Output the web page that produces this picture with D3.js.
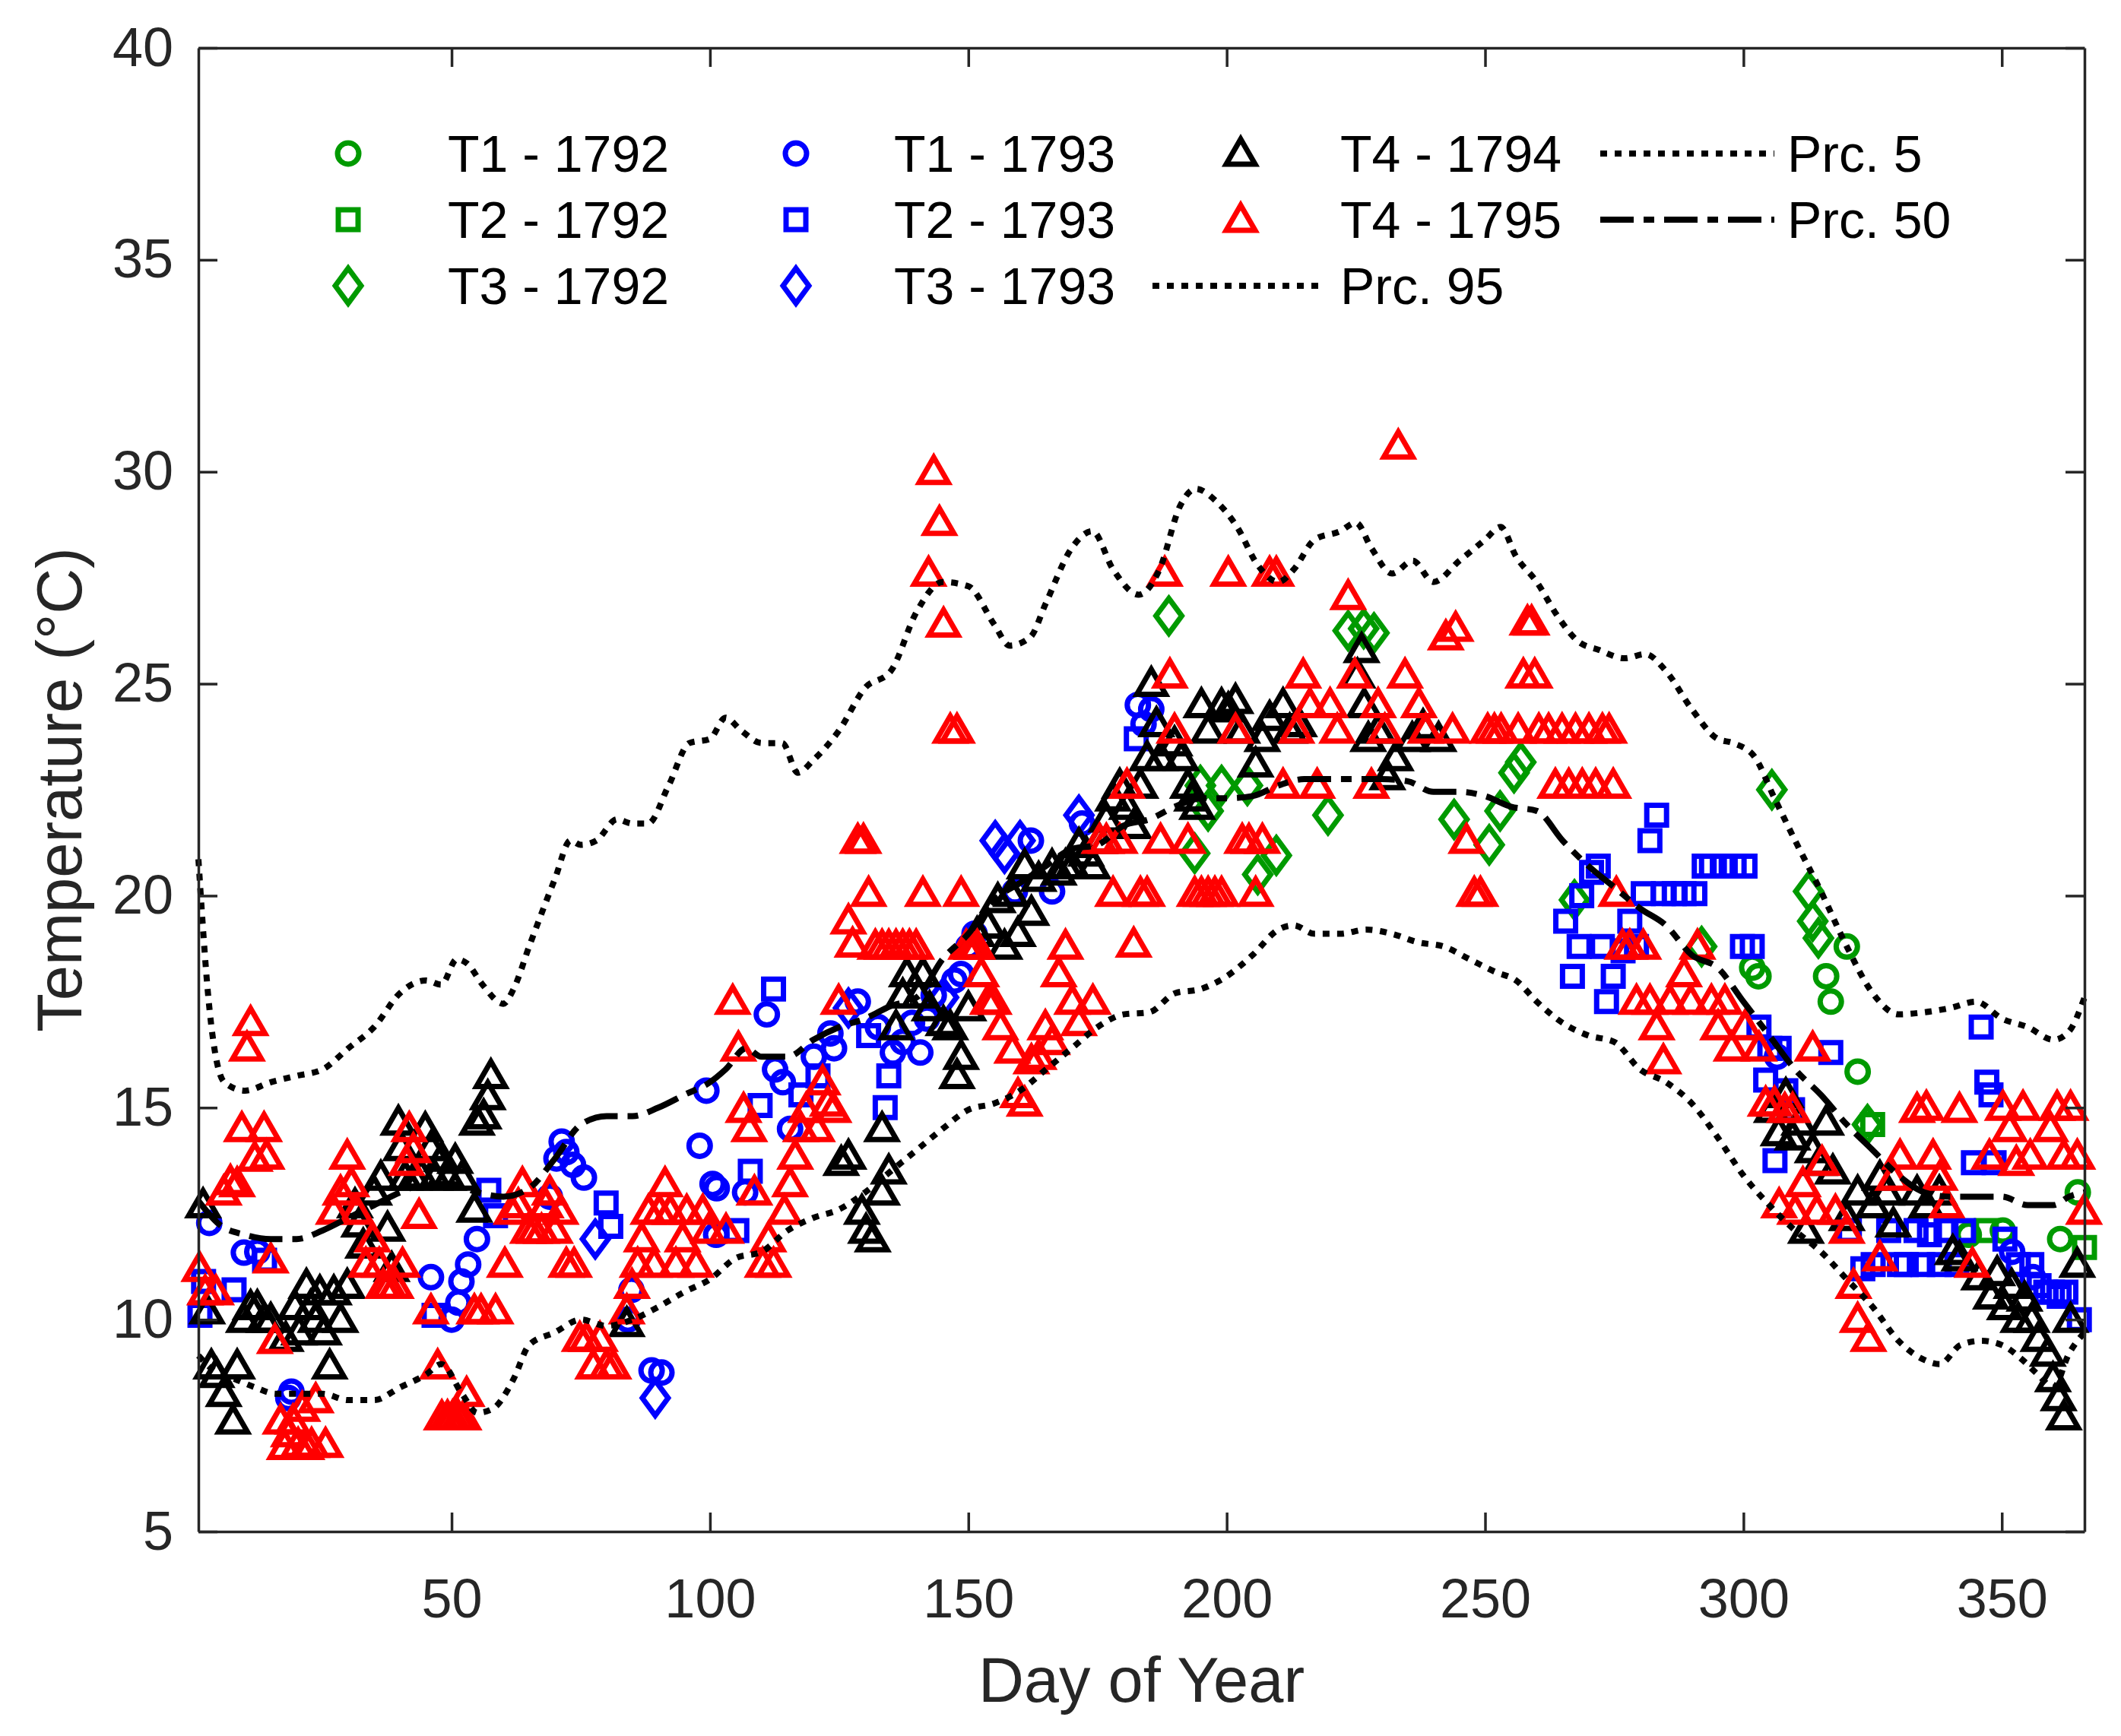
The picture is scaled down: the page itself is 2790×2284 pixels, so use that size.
<!DOCTYPE html>
<html><head><meta charset="utf-8">
<script src="https://cdn.jsdelivr.net/npm/d3@7"></script>
<style>body{margin:0;background:#fff} text{font-family:"Liberation Sans",Arial,Helvetica,sans-serif}</style>
</head><body><svg id="c" width="2790" height="2284"></svg>
<script>
// ---------------- data ----------------
const xTickValues = [50,100,150,200,250,300,350];
const yTickValues = [5,10,15,20,25,30,35,40];

// percentile curves [day, temp]
const prc95 = [[1,20.86],[3,17.5],[6,15.6],[10,15.4],[15,15.6],[20,15.75],[25,15.9],[30,16.4],[35,16.9],[40,17.7],[45,18.0],[48,17.9],[51,18.5],[53,18.4],[56,17.9],[60,17.45],[62,17.8],[65,18.8],[70,20.4],[73,21.3],[75,21.2],[78,21.3],[82,21.8],[85,21.7],[88,21.7],[92,22.6],[96,23.6],[100,23.7],[103,24.2],[106,23.9],[110,23.6],[114,23.6],[117,22.9],[120,23.2],[125,23.9],[130,24.9],[135,25.3],[140,26.7],[145,27.4],[150,27.3],[155,26.4],[158,25.9],[162,26.1],[165,26.9],[170,28.2],[174,28.6],[178,27.7],[183,27.1],[187,27.7],[191,29.2],[194,29.6],[198,29.3],[202,28.7],[206,27.8],[210,27.4],[213,27.7],[217,28.4],[222,28.6],[225,28.8],[228,28.2],[232,27.6],[236,27.9],[240,27.4],[245,27.9],[250,28.4],[253,28.7],[256,28.0],[260,27.4],[264,26.6],[268,26.0],[272,25.8],[277,25.6],[281,25.7],[285,25.3],[290,24.4],[295,23.7],[298,23.6],[302,23.3],[306,22.3],[310,21.3],[315,20.1],[320,18.8],[325,17.7],[330,17.2],[335,17.25],[340,17.35],[345,17.5],[350,17.1],[355,16.9],[360,16.6],[363,16.8],[366,17.6]];
const prc50 = [[1,12.8],[5,12.25],[10,12.0],[15,11.9],[20,11.9],[25,12.1],[30,12.4],[35,12.7],[40,13.0],[45,13.2],[50,13.2],[55,13.0],[60,12.9],[65,13.1],[70,13.8],[75,14.6],[80,14.8],[85,14.8],[90,15.0],[95,15.3],[100,15.6],[103,15.9],[107,16.4],[110,16.2],[115,16.2],[120,16.6],[125,16.9],[130,17.1],[135,17.4],[140,17.6],[145,18.5],[150,19.1],[155,19.9],[160,20.3],[165,20.7],[170,21.1],[175,21.2],[180,21.65],[185,21.8],[190,22.1],[195,22.3],[200,22.3],[205,22.35],[210,22.6],[215,22.75],[220,22.75],[225,22.75],[230,22.75],[235,22.7],[240,22.45],[245,22.45],[250,22.35],[255,22.1],[260,22.0],[265,21.3],[270,20.7],[275,20.2],[280,19.7],[285,19.3],[290,18.6],[295,18.3],[300,17.5],[305,16.7],[310,15.9],[315,15.3],[320,14.6],[325,14.0],[330,13.4],[335,13.0],[340,12.9],[345,12.9],[350,12.9],[355,12.7],[360,12.7],[363,12.9],[366,13.0]];
const prc5 = [[1,9.15],[4,8.8],[8,8.6],[12,8.4],[16,8.25],[20,8.25],[25,8.25],[30,8.1],[35,8.1],[40,8.4],[45,8.7],[48,8.95],[52,8.25],[55,7.8],[58,7.9],[62,8.6],[65,9.4],[70,9.7],[75,10.0],[80,9.85],[85,10.0],[90,10.3],[95,10.65],[100,10.95],[105,11.45],[110,11.6],[115,12.1],[120,12.4],[125,12.6],[130,13.0],[135,13.5],[140,14.0],[145,14.5],[150,14.95],[155,15.1],[160,15.4],[165,15.9],[170,16.4],[175,16.9],[180,17.2],[185,17.25],[190,17.7],[195,17.8],[200,18.1],[205,18.6],[210,19.2],[213,19.3],[217,19.1],[222,19.1],[227,19.2],[232,19.1],[237,18.9],[242,18.8],[247,18.5],[252,18.2],[256,18.0],[260,17.5],[265,17.0],[270,16.7],[275,16.55],[280,15.9],[285,15.6],[290,15.1],[295,14.3],[300,13.4],[305,12.7],[310,12.1],[315,11.6],[320,10.95],[325,10.3],[330,9.5],[335,9.05],[338,8.95],[342,9.4],[346,9.5],[350,9.4],[354,9.05],[357,8.7],[360,8.4],[363,9.2],[366,9.7]];

// 1792 (green)
const t1_1792 = [[301.7,18.3],[302.9,18.1],[316,18.1],[316.9,17.5],[320,18.8],[322.1,15.85],[343.6,12.0],[350.2,12.1],[361.3,11.9],[364.7,13.0]];
const t2_1792 = [[325,14.6],[366,11.7],[347,12.1]];
const t3_1792 = [[188.8,26.6],[193.8,21.0],[194.9,22.6],[196.4,22.0],[199,22.6],[204,22.6],[206,20.5],[209.6,20.95],[219.6,21.9],[223.5,26.25],[226.5,26.3],[228.5,26.2],[244,21.8],[250.8,21.2],[252.9,22.0],[255.6,22.9],[256.9,23.15],[267.3,19.9],[291.9,18.8],[305.5,22.5],[312.6,20.1],[313.4,19.4],[314.5,19.0],[324,14.6]];

// 1793 (blue)
const t1_1793 = [[3.1,12.28],[9.8,11.58],[12.4,11.6],[19,8.3],[18.4,8.15],[46,11.0],[50,10.0],[51.3,10.4],[51.9,10.9],[53.2,11.3],[54.9,11.9],[69,12.9],[70.3,13.8],[71.3,14.2],[72.2,13.95],[73.5,13.65],[75.6,13.35],[84.1,10.0],[84.8,10.7],[88.7,8.8],[90.6,8.75],[98,14.1],[99.3,15.4],[100.5,13.2],[101.2,12.0],[101.3,13.1],[106.8,13.0],[111,17.2],[112.6,15.9],[114.1,15.6],[115.5,14.5],[120.1,16.2],[123.3,16.75],[124,16.4],[128.6,17.5],[132.5,16.9],[135.4,16.3],[137.3,16.55],[139.1,17.0],[140.7,16.3],[142,17.1],[143.3,17.65],[147.3,18.0],[148.6,18.15],[150,18.8],[151.2,19.1],[159,20.1],[162.1,21.3],[166.2,20.1],[172,21.7],[182.8,24.5],[183.9,24.05],[185.4,24.4],[306.5,16.2],[352,11.6],[356,11.0]];
const t2_1793 = [[1.3,10.1],[2,10.9],[7.9,10.7],[13.8,11.4],[46.6,10.1],[57.2,13.05],[58.5,12.45],[79.9,12.75],[80.8,12.2],[105.2,12.1],[107.8,13.5],[109.7,15.05],[112.3,17.8],[117.6,15.3],[120.9,15.75],[130.7,16.7],[133.9,15.0],[134.6,15.75],[182.5,23.7],[265.6,19.4],[266.9,18.1],[268.2,18.8],[268.7,20.0],[270.6,20.55],[271.9,20.7],[272.7,18.8],[273.5,17.5],[274.8,18.1],[276.7,18.7],[278,19.4],[279.3,18.8],[280.6,20.05],[281.9,21.3],[283.2,21.9],[284.5,20.05],[286.6,20.05],[288.5,20.05],[290.6,20.05],[292.4,20.7],[293.8,20.7],[295.9,20.7],[298.2,20.7],[300.3,20.7],[299.8,18.8],[301.7,18.8],[303,16.9],[304.3,15.65],[305.1,16.4],[306.1,13.75],[306.9,16.4],[308.2,15.4],[309.5,14.95],[316.9,16.3],[320.5,12.1],[323.1,11.2],[325.1,11.3],[328.1,12.1],[330.2,11.3],[331.5,11.3],[333.4,12.1],[334.7,11.3],[336,12.0],[337.9,11.3],[339.2,12.1],[341.3,11.3],[342.6,12.1],[344.5,13.7],[346,16.9],[347.1,15.6],[347.9,15.3],[348.5,13.7],[350.6,11.9],[353.2,11.3],[355.8,11.3],[357.2,10.8],[358.5,10.65],[359.8,10.65],[361.1,10.55],[362.4,10.65],[365,10.0]];
const t3_1793 = [[77.8,11.9],[89.4,8.15],[126.8,17.35],[145.2,17.6],[155.2,21.3],[157,21.0],[160,21.3],[171.4,21.9]];

// 1794 (black)
const t4_1794 = [[1.9,12.7],[2.7,10.2],[3.5,8.9],[4.5,8.7],[5.9,8.25],[7.7,7.6],[8.5,8.9],[9.8,10.0],[11.1,10.3],[12.4,10.3],[13.7,10.0],[15,10.0],[17.9,9.55],[19.7,10.3],[20.5,9.7],[21.9,10.8],[22.7,10.3],[23.7,10.0],[24.5,10.65],[25.3,9.7],[26.4,8.9],[27.2,10.65],[28.5,10.0],[29.8,10.8],[31.3,12.7],[32.1,12.25],[32.9,11.75],[35,13.0],[36.3,13.35],[37.6,12.15],[38.4,11.2],[39.7,14.65],[40.2,14.05],[41,13.35],[42.8,13.35],[44.1,13.4],[44.9,14.5],[46,14.05],[46.8,13.35],[48.1,13.8],[49.4,13.35],[50.7,13.75],[52,13.35],[54.4,12.6],[54.9,14.65],[56.2,14.8],[57,15.25],[57.6,15.75],[83.9,9.9],[125.4,13.7],[126.8,13.85],[129.4,12.55],[130.2,12.1],[131.5,11.9],[133.3,13.0],[134.6,13.5],[133.3,14.5],[136,16.9],[137.3,17.65],[138.1,18.15],[140.4,17.65],[141.2,18.15],[142.5,17.35],[145.2,17.0],[146.5,16.9],[147.8,15.75],[148.6,16.2],[150,17.35],[150.7,18.8],[151.7,19.1],[153.8,19.3],[155.7,19.9],[157,18.8],[158.3,20.05],[159.6,19.1],[160.9,20.7],[162.2,19.6],[163.6,20.4],[166.2,20.7],[167.5,20.55],[168.8,20.7],[170.1,20.7],[171.4,21.2],[172.8,21.0],[174.1,20.7],[175.4,21.3],[176.7,21.8],[178,22.3],[179.3,22.6],[180.7,22.1],[182,21.65],[183.3,22.6],[184.6,23.25],[185.4,25.0],[186.4,24.05],[187.2,23.25],[189.9,23.6],[191.2,23.25],[192.5,22.6],[193.3,22.3],[194.3,22.1],[195.1,24.5],[196.4,23.9],[199,24.5],[200.3,24.4],[201.7,24.6],[203,23.9],[205.6,23.1],[206.9,23.7],[208.3,24.2],[210.9,24.5],[212.2,23.9],[214,24.05],[225.3,25.2],[226.1,25.8],[226.6,24.5],[227.4,23.7],[229.3,23.9],[231.1,22.8],[232.7,23.25],[235.9,23.7],[238,24.0],[241,23.7],[305.5,14.95],[306.8,14.4],[308.2,15.3],[309.5,14.3],[310.8,14.65],[312.1,12.1],[313.4,14.0],[314.7,13.7],[316,14.65],[317.3,13.5],[320,12.4],[322.1,13.0],[325.1,12.7],[326.4,13.35],[327.7,13.0],[329,12.25],[333.6,13.0],[335.4,12.7],[337.9,13.0],[340.5,11.6],[341.8,11.45],[345.6,11.0],[347.9,10.55],[349.1,11.1],[350.6,10.3],[351.9,10.8],[353.2,10.0],[354.4,10.5],[355.8,10.0],[357.1,9.55],[358.9,9.2],[359.9,8.6],[361,8.15],[362,7.7],[363.3,10.0],[364.6,11.3]];

// 1795 (red)
const t4_1795 = [[1.2,11.2],[2.3,10.65],[4.4,10.65],[5.9,13.0],[7.2,13.25],[8.5,13.2],[9.4,14.5],[10.4,16.4],[11.1,17.0],[11.9,13.8],[13.7,14.5],[14.2,13.85],[15,11.4],[15.8,9.5],[16.9,7.6],[17.7,7.0],[18.5,7.3],[19.3,7.6],[20.3,7.05],[21.1,7.9],[21.9,7.0],[22.9,7.05],[23.7,8.1],[25.6,7.05],[27.2,12.55],[28.5,13.0],[29.8,13.85],[30.6,13.2],[31.6,12.55],[33.4,11.3],[34.7,11.9],[36,11.3],[36.8,10.8],[37.9,10.8],[39.2,10.8],[40.5,11.3],[41.3,13.7],[41.8,14.5],[42.6,14.0],[43.7,12.45],[46,10.2],[47.3,8.9],[48.1,7.7],[49.2,7.7],[50.2,7.7],[51.3,7.7],[52.3,7.7],[52.9,8.25],[54.4,10.2],[55.7,10.2],[58.5,10.2],[60.3,11.3],[61.6,12.55],[62.9,12.7],[63.7,13.2],[64.8,12.1],[66,12.1],[67.4,12.1],[68.2,12.7],[69,13.0],[70,12.1],[71.1,12.55],[72.2,11.3],[73.7,11.3],[74.8,9.55],[76.1,9.55],[77.4,8.9],[78.7,9.55],[80,8.9],[81.3,8.9],[83.9,10.2],[84.9,10.8],[86,11.3],[86.8,11.9],[88.1,12.55],[89.2,11.3],[90.2,12.55],[91.3,13.2],[92.3,12.55],[93.4,11.3],[94.7,11.9],[95.5,12.55],[97.3,11.3],[98.6,12.55],[99.7,12.1],[103.1,12.1],[104.4,17.5],[105.5,16.4],[106.5,14.95],[107.6,14.5],[108.6,13.0],[110.2,11.3],[111.3,11.9],[112.3,11.3],[114.4,12.55],[115.5,13.2],[116.5,13.85],[117.6,14.5],[118.6,14.95],[120.7,14.5],[121.8,15.6],[122.8,15.1],[123.9,14.95],[124.9,17.5],[126.8,19.4],[127.6,18.85],[128.6,21.3],[129.7,21.3],[130.7,20.05],[132,18.8],[133.3,18.8],[134.6,18.8],[136,18.8],[137.3,18.8],[138.6,18.8],[139.9,18.8],[141.2,20.05],[142.3,27.6],[143.3,30.0],[144.4,28.8],[145.2,26.4],[146.5,23.9],[147.8,23.9],[148.6,20.05],[149.6,18.8],[150.7,18.8],[151.7,18.8],[152.5,18.15],[153.8,17.5],[154.9,17.5],[156.2,16.9],[158.5,16.35],[159.6,15.3],[160.9,15.1],[162.2,16.1],[163.6,16.2],[164.9,16.9],[166.2,16.55],[167.5,18.15],[168.8,18.8],[170.1,17.5],[171.4,17.0],[174.1,17.5],[175.4,21.3],[176.7,21.3],[178,20.05],[179.3,21.3],[180.7,22.6],[182,18.85],[183.3,20.05],[184.6,20.05],[187.2,21.3],[188,27.6],[189,25.2],[189.9,23.9],[192.5,21.3],[193.8,20.05],[195.1,20.05],[196.4,20.05],[197.7,20.05],[199,20.05],[200.3,27.6],[201.7,23.9],[203,21.3],[204.3,21.3],[205.6,20.05],[206.9,21.3],[208.3,27.6],[209.6,27.6],[210.9,22.6],[213.5,23.9],[214.8,25.2],[216.1,24.5],[217.5,22.6],[220,24.5],[221.4,23.9],[223.5,27.05],[224.8,25.2],[228,22.6],[229.3,24.5],[230.6,23.9],[233.2,30.6],[234.5,25.2],[237.2,24.5],[238.5,23.9],[242.4,26.1],[243.7,23.9],[244.3,26.3],[246.4,21.3],[247.9,20.05],[249.1,20.05],[250.5,23.9],[251.8,23.9],[253.1,23.9],[256.4,23.9],[257.4,25.2],[258.2,26.45],[259,26.45],[259.6,25.2],[260.4,23.9],[262.3,23.9],[263.6,22.6],[264.9,23.9],[266.2,22.6],[267.5,23.9],[268.8,22.6],[270.1,23.9],[271.4,22.6],[272.7,23.9],[274,23.9],[274.8,22.6],[275.4,20.05],[276.6,18.8],[278,18.8],[279.3,17.5],[280.6,18.8],[281.9,17.5],[283.2,16.9],[284.5,16.1],[285.8,17.5],[288.5,18.15],[289.8,17.5],[291.1,18.8],[293.8,17.5],[295.1,16.9],[296.4,17.5],[297.7,16.4],[300.3,16.9],[303,16.4],[304.3,15.1],[306,15.1],[306.9,12.7],[308,14.95],[309.5,14.95],[310,12.55],[311.5,13.2],[313.4,16.4],[314.2,12.55],[315.2,13.7],[317.8,12.55],[320,12.1],[321.3,10.8],[322.1,10.0],[324.2,9.55],[326.4,11.45],[329,13.35],[330.3,13.85],[333.6,14.95],[335.4,15.0],[336.7,13.85],[338,13.35],[339.3,12.7],[341.8,14.95],[344.3,11.3],[347.6,13.85],[350.2,15.0],[351.5,14.5],[352.8,13.7],[354.1,15.0],[355.5,13.85],[359.4,14.5],[360.7,15.0],[362,13.85],[363.3,15.0],[364.6,13.85],[365.9,12.55]];

const seriesNames = ["T1 - 1792","T2 - 1792","T3 - 1792","T1 - 1793","T2 - 1793","T3 - 1793","T4 - 1794","T4 - 1795"];
const lineNames = ["Prc. 5","Prc. 50","Prc. 95"];

// ---------------- layout ----------------
const svg = d3.select("#c");
const L=261, R=2742, T=63, B=2015;
const x = d3.scaleLinear().domain([1,366]).range([L,R]);
const y = d3.scaleLinear().domain([5,40]).range([B,T]);
const GREEN="#009a00", BLUE="#0000ff", RED="#ff0000", BLACK="#000000", AX="#262626";

function markerPath(shape){
  const p = d3.path();
  if(shape==="circle"){ p.moveTo(14,0); p.arc(0,0,14,0,2*Math.PI); }
  else if(shape==="square"){ p.rect(-13,-13,26,26); }
  else if(shape==="diamond"){ p.moveTo(0,-23); p.lineTo(17,0); p.lineTo(0,23); p.lineTo(-17,0); p.closePath(); }
  else { p.moveTo(0,-19); p.lineTo(19,14); p.lineTo(-19,14); p.closePath(); }
  return p.toString();
}

const series = [
  {data:t1_1792, shape:"circle", color:GREEN},
  {data:t2_1792, shape:"square", color:GREEN},
  {data:t3_1792, shape:"diamond", color:GREEN},
  {data:t1_1793, shape:"circle", color:BLUE},
  {data:t2_1793, shape:"square", color:BLUE},
  {data:t3_1793, shape:"diamond", color:BLUE},
  {data:t4_1794, shape:"triangle", color:BLACK},
  {data:t4_1795, shape:"triangle", color:RED}
];

const MW = 7;
const plot = svg.append("g");
series.forEach(s=>{
  plot.append("g").selectAll("path").data(s.data).join("path")
    .attr("d", markerPath(s.shape))
    .attr("transform", d=>`translate(${x(d[0])},${y(d[1])})`)
    .attr("fill","none").attr("stroke",s.color).attr("stroke-width",MW)
    .attr("stroke-linejoin","miter");
});

const line = d3.line().x(d=>x(d[0])).y(d=>y(d[1])).curve(d3.curveMonotoneX);
const dotted = "9,10", dashdot = "44,13,14,13";
plot.append("path").attr("d",line(prc95)).attr("fill","none").attr("stroke",BLACK).attr("stroke-width",8).attr("stroke-dasharray",dotted);
plot.append("path").attr("d",line(prc5)).attr("fill","none").attr("stroke",BLACK).attr("stroke-width",8).attr("stroke-dasharray",dotted);
plot.append("path").attr("d",line(prc50)).attr("fill","none").attr("stroke",BLACK).attr("stroke-width",8).attr("stroke-dasharray",dashdot);

// ---------------- axes ----------------
const fs = 72;
const gx = svg.append("g").attr("transform",`translate(0,${B})`)
  .call(d3.axisBottom(x).tickValues(xTickValues).tickSizeInner(-25).tickSizeOuter(0).tickPadding(62));
const gxt = svg.append("g").attr("transform",`translate(0,${T})`)
  .call(d3.axisTop(x).tickValues(xTickValues).tickSizeInner(-25).tickSizeOuter(0).tickFormat(""));
const gy = svg.append("g").attr("transform",`translate(${L},0)`)
  .call(d3.axisLeft(y).tickValues(yTickValues).tickSizeInner(-25).tickSizeOuter(0).tickPadding(33));
const gyr = svg.append("g").attr("transform",`translate(${R},0)`)
  .call(d3.axisRight(y).tickValues(yTickValues).tickSizeInner(-25).tickSizeOuter(0).tickFormat(""));
[gx,gxt,gy,gyr].forEach(g=>{
  g.selectAll(".domain").attr("stroke",AX).attr("stroke-width",3.5);
  g.selectAll(".tick line").attr("stroke",AX).attr("stroke-width",3.5);
  g.selectAll("text").attr("font-size",fs).attr("fill",AX).attr("font-family","Liberation Sans, Arial, sans-serif");
});

svg.append("text").attr("x",(L+R)/2).attr("y",2239).attr("text-anchor","middle")
  .attr("font-size",83).attr("fill",AX).text("Day of Year");
svg.append("text").attr("transform",`translate(107,${(T+B)/2}) rotate(-90)`).attr("text-anchor","middle")
  .attr("font-size",83).attr("fill",AX).text("Temperature (°C)");

// ---------------- legend ----------------
const leg = svg.append("g");
const rowsY = [202,289,376];
const legItems = [
  {i:0,col:0,row:0},{i:1,col:0,row:1},{i:2,col:0,row:2},
  {i:3,col:1,row:0},{i:4,col:1,row:1},{i:5,col:1,row:2},
  {i:6,col:2,row:0},{i:7,col:2,row:1}
];
const markerX=[458,1047,1632], textX=[589,1176,1763];
legItems.forEach(it=>{
  const s=series[it.i];
  leg.append("path").attr("d",markerPath(s.shape))
    .attr("transform",`translate(${markerX[it.col]},${rowsY[it.row]})`)
    .attr("fill","none").attr("stroke",s.color).attr("stroke-width",MW);
  leg.append("text").attr("x",textX[it.col]).attr("y",rowsY[it.row]+24)
    .attr("font-size",68).attr("fill","#000").text(seriesNames[it.i]);
});
const legLines = [
  {name:lineNames[0], x1:2105,x2:2334,tx:2351,row:0,dash:dotted},
  {name:lineNames[1], x1:2105,x2:2334,tx:2351,row:1,dash:dashdot},
  {name:lineNames[2], x1:1516,x2:1740,tx:1763,row:2,dash:dotted}
];
legLines.forEach(l=>{
  leg.append("line").attr("x1",l.x1).attr("x2",l.x2).attr("y1",rowsY[l.row]).attr("y2",rowsY[l.row])
    .attr("stroke","#000").attr("stroke-width",8).attr("stroke-dasharray",l.dash);
  leg.append("text").attr("x",l.tx).attr("y",rowsY[l.row]+24).attr("font-size",68).attr("fill","#000").text(l.name);
});
</script>
</body></html>
